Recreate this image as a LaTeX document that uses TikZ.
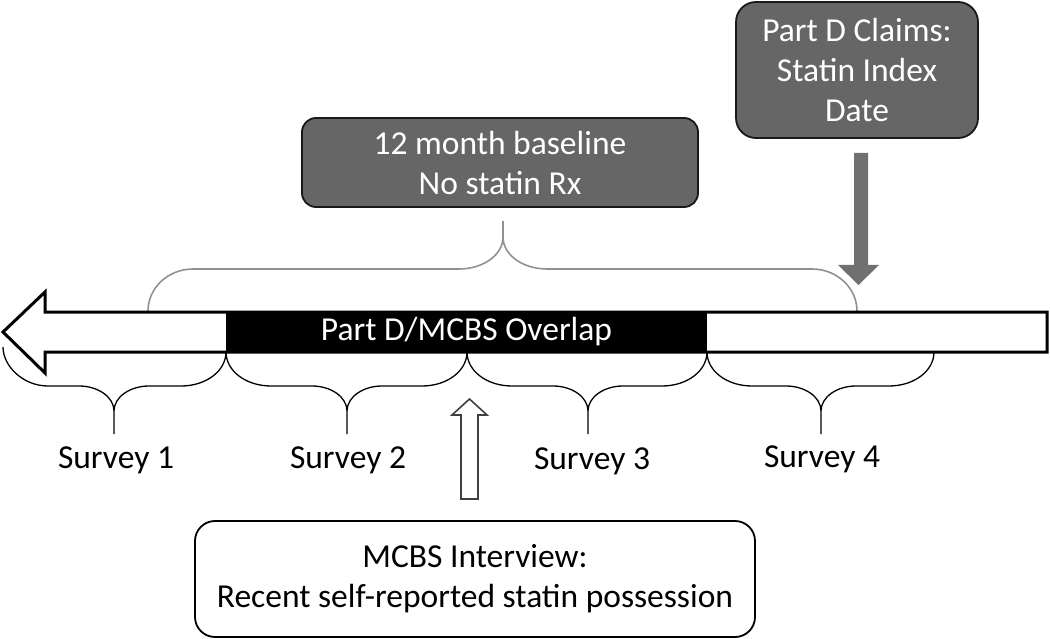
\documentclass[tikz,border=0pt]{standalone}
\usepackage{fontspec}
\setmainfont{Carlito}
\definecolor{boxgray}{RGB}{102,102,102}
\definecolor{arrowgray}{RGB}{112,112,112}
\definecolor{bracegray}{RGB}{145,145,145}
\newcommand\survbrace[4]{%
  \draw[brace] (#1,#4) .. controls +(0,19) and +(-25,0) .. (#1+45,386)
    -- (#2-35,386) .. controls +(19,0) and +(0,-14) .. (#2,411) -- (#2,434)
    (#2,411) .. controls +(0,-14) and +(-19,0) .. (#2+35,386)
    -- (#3-45,386) .. controls +(25,0) and +(0,19) .. (#3,352);}
\begin{document}
\begin{tikzpicture}[x=1pt,y=-1pt,
  txt/.style={font=\fontsize{33.5}{40}\selectfont, align=center, inner sep=0pt},
  graybox/.style={txt, draw=black!90, line width=1.8pt, fill=boxgray, text=white, rounded corners=14pt},
  whitebox/.style={txt, draw=black, line width=1.8pt, fill=white, rounded corners=20pt},
  brace/.style={draw=black, line width=1.3pt},
  topbrace/.style={draw=bracegray, line width=1.6pt},
  bigarrow/.style={draw=black, line width=3pt, fill=white, line join=miter},
  hollowarrow/.style={draw=black!75, line width=1.6pt, fill=white},
  survey/.style={txt, anchor=base}]
\useasboundingbox (0,0) rectangle (1050,639);

% top brace (12 month baseline)
\draw[topbrace] (148,311) .. controls +(0,-23) and +(-25,0) .. (193,269)
  -- (459,269) .. controls +(24,0) and +(0,18) .. (503,237) -- (503,221)
  (503,237) .. controls +(0,18) and +(-24,0) .. (547,269)
  -- (812,269) .. controls +(25,0) and +(0,-23) .. (857,311);

% timeline arrow
\draw[bigarrow] (3,332) -- (45,292) -- (45,312) -- (1047,312) -- (1047,352)
  -- (45,352) -- (45,373) -- cycle;
\node[txt, fill=black, text=white, minimum width=481, minimum height=39,
  text height=22pt, text depth=5pt] (overlap) at (466.5,332) {Part D/MCBS Overlap};

% survey braces
\survbrace{3}{114}{226}{347}
\survbrace{226}{347}{467}{352}
\survbrace{467}{588}{707}{352}
\survbrace{707}{821}{934}{352}

\node[survey] (s1) at (116,468) {Survey 1};
\node[survey] (s2) at (348,468) {Survey 2};
\node[survey] (s3) at (592,469) {Survey 3};
\node[survey] (s4) at (822,467) {Survey 4};

% boxes
\node[graybox, minimum width=396, minimum height=89] (base) at (500,162.5)
  {12 month baseline\\No statin Rx};
\node[graybox, rounded corners=20pt, minimum width=242, minimum height=136] (claims) at (857,70)
  {Part D Claims:\\Statin Index\\Date};
\node[whitebox, minimum width=560, minimum height=116] (mcbs) at (475,579)
  {MCBS Interview:\\Recent self-reported statin possession};

% gray block arrow from claims box down to timeline
\fill[arrowgray] (854,153) -- (868,153) -- (868,265) -- (879,265) -- (858.5,285)
  -- (838,265) -- (854,265) -- cycle;

% hollow block arrow from MCBS box up to timeline
\draw[hollowarrow] (469.5,399) -- (487,415) -- (478,415) -- (478,499) -- (461,499)
  -- (461,415) -- (452,415) -- cycle;
\end{tikzpicture}
\end{document}
